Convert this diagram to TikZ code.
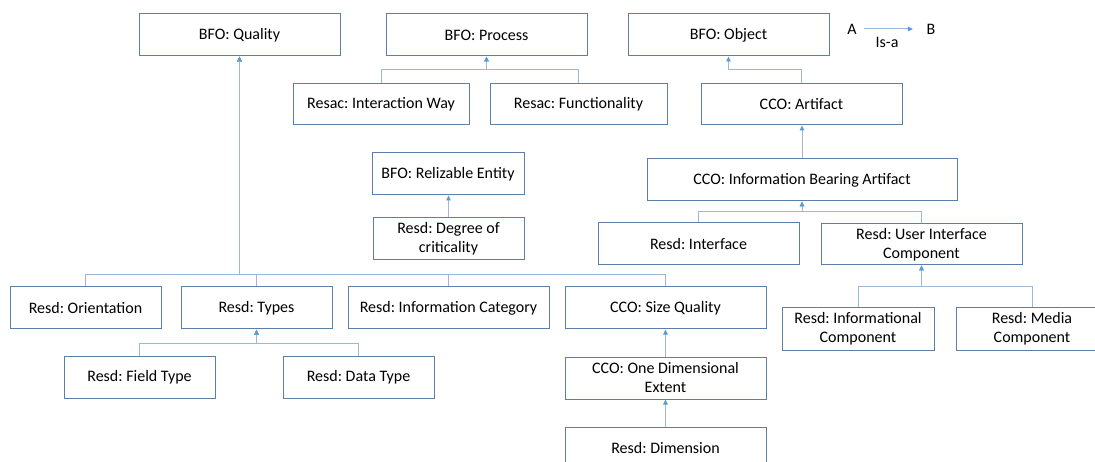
\documentclass[tikz,border=0pt]{standalone}
\usepackage{fontspec}
\setmainfont{Carlito}
\usetikzlibrary{arrows.meta}
\definecolor{boxc}{HTML}{5B7FA6}
\definecolor{linec}{HTML}{9DB8D6}
\definecolor{tipc}{HTML}{5B9BD5}
\frenchspacing
\begin{document}
\begin{tikzpicture}[x=1pt,y=-1pt,
  cls/.style={draw=boxc, line width=1pt, fill=white, rectangle, inner sep=0pt,
    minimum height=42pt, align=center, font=\fontsize{16}{19}\selectfont\frenchspacing},
  isa/.style={draw=linec, line width=1pt, -{Triangle[length=5pt,width=4.5pt,color=tipc]}},
  lbl/.style={inner sep=0pt, font=\fontsize{16}{19}\selectfont},
]
\clip (0,0) rectangle (1095,462);
\fill[white] (0,0) rectangle (1095,462);

% top level
\node[cls, minimum width=201pt] (qual) at (239.5,35) {BFO: Quality};
\node[cls, minimum width=201pt] (proc) at (486.5,35) {BFO: Process};
\node[cls, minimum width=201pt] (obj)  at (728.5,35) {BFO: Object};

% legend
\node[lbl] (la) at (852,29) {A};
\node[lbl] (lb) at (931,29) {B};
\node[lbl] (lisa) at (887,42) {Is-a};
\draw[isa, shorten <=7.5pt, shorten >=13.5pt] (la) -- (lb);

% second level
\node[cls, minimum width=176pt, minimum height=41pt] (iway) at (381,104.5) {Resac: Interaction Way};
\node[cls, minimum width=177pt, minimum height=41pt] (func) at (578.5,104.5) {Resac: Functionality};
\node[cls, minimum width=201pt, minimum height=41pt] (art)  at (801.5,104.5) {CCO: Artifact};

\node[cls, minimum width=152pt] (real) at (448,174) {BFO: Relizable Entity};
\node[cls, minimum width=151pt] (degc) at (448.5,239) {Resd: Degree of\\criticality};

\node[cls, minimum width=310pt] (iba)  at (802,180) {CCO: Information Bearing Artifact};
\node[cls, minimum width=201pt] (intf) at (698.5,244) {Resd: Interface};
\node[cls, minimum width=201pt, minimum height=41pt] (uic) at (921.5,244.5) {Resd: User Interface\\Component};

\node[cls, minimum width=152pt] (infc)  at (858,329) {Resd: Informational\\Component};
\node[cls, minimum width=152pt] (media) at (1032,329) {Resd: Media\\Component};

% quality children
\node[cls, minimum width=151pt] (orient) at (85.5,308) {Resd: Orientation};
\node[cls, minimum width=151pt] (types)  at (256.5,308) {Resd: Types};
\node[cls, minimum width=201pt] (infcat) at (448.5,308) {Resd: Information Category};
\node[cls, minimum width=201pt] (sizeq)  at (665.5,308) {CCO: Size Quality};

\node[cls, minimum width=151pt] (field) at (139.5,377) {Resd: Field Type};
\node[cls, minimum width=151pt] (data)  at (358.5,377) {Resd: Data Type};

\node[cls, minimum width=201pt] (oned) at (665.5,378) {CCO: One Dimensional\\Extent};
\node[cls, minimum width=201pt] (dim)  at (665.5,448) {Resd: Dimension};

% junction levels
\coordinate (jproc) at (0,70);
\coordinate (jobj)  at (0,70);
\coordinate (jiba)  at (0,212);
\coordinate (juic)  at (0,287);
\coordinate (jqual) at (0,275);
\coordinate (jtyp)  at (0,343);

% connectors
\draw[isa] (iway.north) -- (iway.north |- jproc) -| (proc.south);
\draw[isa] (func.north) -- (func.north |- jproc) -| (proc.south);
\draw[isa] (art.north) -- (art.north |- jobj) -| (obj.south);
\draw[isa] (iba.north) -- (iba.north |- art.south);
\draw[isa] (intf.north) -- (intf.north |- jiba) -| (iba.south);
\draw[isa] (uic.north) -- (uic.north |- jiba) -| (iba.south);
\draw[isa] (infc.north) -- (infc.north |- juic) -| (uic.south);
\draw[isa] (media.north) -- (media.north |- juic) -| (uic.south);
\draw[isa] (degc.north) -- (degc.north |- real.south);
\draw[isa] (orient.north) -- (orient.north |- jqual) -| (qual.south);
\draw[isa] (types.north) -- (types.north |- jqual) -| (qual.south);
\draw[isa] (infcat.north) -- (infcat.north |- jqual) -| (qual.south);
\draw[isa] (sizeq.north) -- (sizeq.north |- jqual) -| (qual.south);
\draw[isa] (field.north) -- (field.north |- jtyp) -| (types.south);
\draw[isa] (data.north) -- (data.north |- jtyp) -| (types.south);
\draw[isa] (oned.north) -- (oned.north |- sizeq.south);
\draw[isa] (dim.north) -- (dim.north |- oned.south);
\end{tikzpicture}
\end{document}
